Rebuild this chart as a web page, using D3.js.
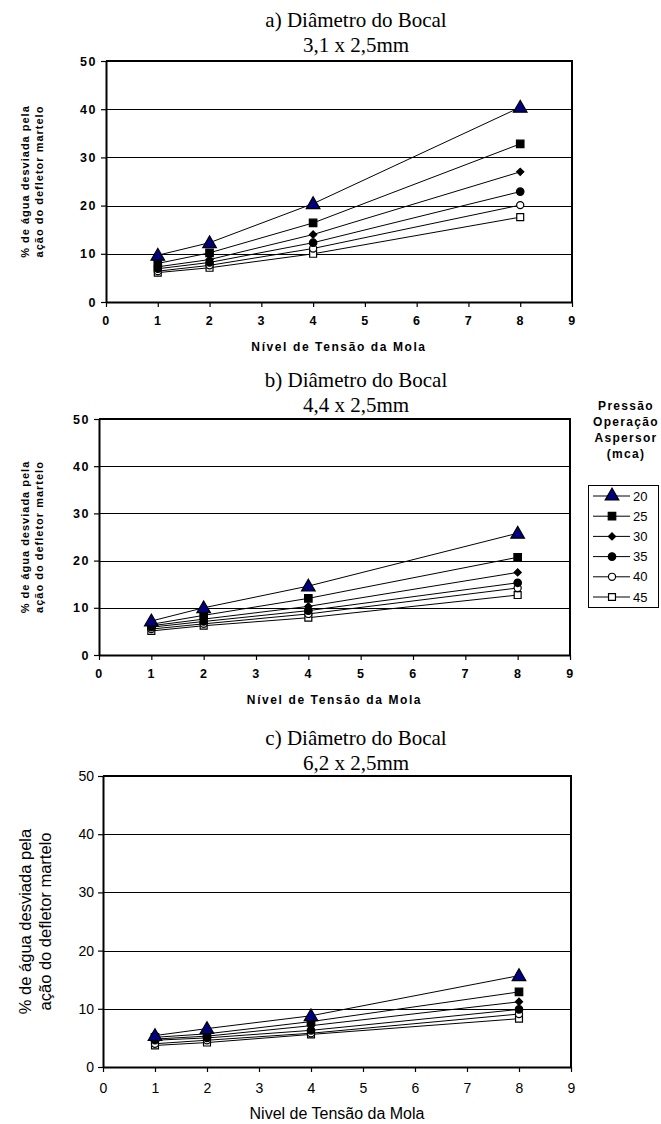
<!DOCTYPE html>
<html lang="pt">
<head>
<meta charset="UTF-8">
<title>Água desviada pelo defletor martelo</title>
<script src="https://d3js.org/d3.v7.min.js"></script>
<style>
    body { margin: 0; background: #fff; }
    svg { display: block; }
</style>
</head>
<body>
<svg id="chart"></svg>
<script>
    // niveis de tensao da mola (eixo x)
    const nivel = [1, 2, 4, 8];
    // pressao de operacao do aspersor (mca)
    const pressoes = ["20", "25", "30", "35", "40", "45"];
    const xTicks = [0, 1, 2, 3, 4, 5, 6, 7, 8, 9];
    const yTicks = [0, 10, 20, 30, 40, 50];

    // % de agua desviada, uma linha por pressao (20 ... 45)
    const bocal31 = [
        [9.7, 12.3, 20.4, 40.4],
        [8.0, 10.2, 16.4, 32.8],
        [7.3, 8.8, 14.0, 27.0],
        [6.9, 8.2, 12.3, 22.9],
        [6.4, 7.6, 11.1, 20.1],
        [6.1, 7.1, 10.0, 17.6]
    ];
    const bocal44 = [
        [7.2, 10.0, 14.6, 25.8],
        [6.5, 8.4, 12.0, 20.7],
        [6.2, 7.6, 10.3, 17.5],
        [5.9, 7.1, 9.4, 15.3],
        [5.5, 6.6, 8.7, 14.2],
        [5.1, 6.2, 7.9, 12.7]
    ];
    const bocal62 = [
        [5.4, 6.6, 8.8, 15.7],
        [5.1, 5.7, 7.8, 12.9],
        [4.8, 5.3, 7.1, 11.2],
        [4.6, 5.0, 6.3, 9.9],
        [4.0, 4.6, 5.8, 9.1],
        [3.7, 4.2, 5.6, 8.3]
    ];

    const W = 661, H = 1124;
    const svg = d3.select("#chart").attr("width", W).attr("height", H);

    // marker style per pressure (rot = rotation, square turned into a diamond)
    const markers = [
        {type: d3.symbolTriangle, size: 80, rot: 0, fill: "#000080", stroke: "#000"},
        {type: d3.symbolSquare, size: 56, rot: 0, fill: "#000", stroke: "#000"},
        {type: d3.symbolSquare, size: 26, rot: 45, fill: "#000", stroke: "#000"},
        {type: d3.symbolCircle, size: 44, rot: 0, fill: "#000", stroke: "#000"},
        {type: d3.symbolCircle, size: 40, rot: 0, fill: "#fff", stroke: "#000"},
        {type: d3.symbolSquare, size: 48, rot: 0, fill: "#fff", stroke: "#000"}
    ];

    const panels = [
        {
            data: bocal31, t1: "a) Diâmetro do Bocal", t2: "3,1 x 2,5mm",
            x0: 106, x1: 572, y0: 61, y1: 302, titleY: 27, bold: true
        },
        {
            data: bocal44, t1: "b) Diâmetro do Bocal", t2: "4,4 x 2,5mm",
            x0: 99, x1: 570, y0: 419, y1: 655, titleY: 387, bold: true
        },
        {
            data: bocal62, t1: "c) Diâmetro do Bocal", t2: "6,2 x 2,5mm",
            x0: 103, x1: 571, y0: 776, y1: 1067, titleY: 745, bold: false
        }
    ];

    panels.forEach(p => drawPanel(p));
    drawLegend();

    function drawPanel(p) {
        const x = d3.scaleLinear().domain([0, 9]).range([p.x0, p.x1]);
        const y = d3.scaleLinear().domain([0, 50]).range([p.y1, p.y0]);
        const g = svg.append("g");

        // titulo
        g.append("text")
            .attr("x", 356).attr("y", p.titleY)
            .attr("text-anchor", "middle")
            .style("font-family", "'Liberation Serif', 'Times New Roman', serif")
            .style("font-size", "21px")
            .text(p.t1);
        g.append("text")
            .attr("x", 356).attr("y", p.titleY + 25)
            .attr("text-anchor", "middle")
            .style("font-family", "'Liberation Serif', 'Times New Roman', serif")
            .style("font-size", "21px")
            .text(p.t2);

        // grade horizontal
        g.selectAll(".grid")
            .data(yTicks.filter(d => d > 0 && d < 50))
            .join("line")
            .attr("x1", p.x0).attr("x2", p.x1)
            .attr("y1", d => Math.round(y(d)) + 0.5)
            .attr("y2", d => Math.round(y(d)) + 0.5)
            .attr("stroke", "#000").attr("stroke-width", 1);

        // moldura superior e direita
        g.append("path")
            .attr("d", `M${p.x0},${p.y0}H${p.x1}V${p.y1}`)
            .attr("fill", "none").attr("stroke", "#000").attr("stroke-width", 2);

        const tickFont = p.bold ? "bold 12.5px 'Liberation Sans', Arial, sans-serif"
                                : "14px 'Liberation Sans', Arial, sans-serif";

        const yAxis = g.append("g")
            .attr("transform", `translate(${p.x0},0)`)
            .call(d3.axisLeft(y).tickValues(yTicks).tickSize(5).tickSizeOuter(0).tickPadding(4));
        const xAxis = g.append("g")
            .attr("transform", `translate(0,${p.y1})`)
            .call(d3.axisBottom(x).tickValues(xTicks).tickSize(5).tickSizeOuter(0).tickPadding(p.bold ? 9 : 11));

        [yAxis, xAxis].forEach(ax => {
            ax.select(".domain").attr("stroke", "#000").attr("stroke-width", 2);
            ax.selectAll(".tick line").attr("stroke", "#000").attr("stroke-width", 1.2);
            ax.selectAll("text")
                .style("font", tickFont)
                .style("letter-spacing", p.bold ? "1.5px" : "0px")
                .attr("fill", "#000");
        });

        // rotulos dos eixos
        const cy = (p.y0 + p.y1) / 2;
        const yl = g.append("text")
            .attr("transform", `translate(25,${cy}) rotate(-90)`)
            .attr("text-anchor", "middle")
            .style("font-family", "'Liberation Sans', Arial, sans-serif")
            .style("font-size", p.bold ? "11px" : "16.5px")
            .style("font-weight", p.bold ? "bold" : "normal")
            .style("letter-spacing", p.bold ? "1px" : "0px");
        yl.append("tspan").attr("x", 0).attr("dy", "0.35em").text("% de água desviada pela");
        yl.append("tspan").attr("x", 0).attr("dy", p.bold ? 14 : 20).text("ação do defletor martelo");

        g.append("text")
            .attr("x", (p.x0 + p.x1) / 2)
            .attr("y", p.bold ? p.y1 + 49 : H - 5)
            .attr("text-anchor", "middle")
            .style("font-family", "'Liberation Sans', Arial, sans-serif")
            .style("font-size", p.bold ? "12px" : "16px")
            .style("font-weight", p.bold ? "bold" : "normal")
            .style("letter-spacing", p.bold ? "1.6px" : "0px")
            .text(p.bold ? "Nível de Tensão da Mola" : "Nivel de Tensão da Mola");

        // linhas
        const line = d3.line().x((d, i) => x(nivel[i])).y(d => y(d));
        g.selectAll(".serie")
            .data(p.data)
            .join("path")
            .attr("d", line)
            .attr("fill", "none").attr("stroke", "#000").attr("stroke-width", 1);

        // marcadores (desenha primeiro as pressoes maiores)
        p.data.map((s, k) => ({s, k})).reverse().forEach(({s, k}) => {
            const m = markers[k];
            g.selectAll(null)
                .data(s)
                .join("path")
                .attr("transform", (d, i) =>
                    `translate(${x(nivel[i])},${y(d) + (k === 0 ? 1 : 0)}) rotate(${m.rot})`)
                .attr("d", d3.symbol().type(m.type).size(m.size))
                .attr("fill", m.fill).attr("stroke", m.stroke).attr("stroke-width", 1.2);
        });
    }

    function drawLegend() {
        const lg = svg.append("g");
        const head = ["Pressão", "Operação", "Aspersor", "(mca)"];
        lg.selectAll(".head")
            .data(head)
            .join("text")
            .attr("x", 626)
            .attr("y", (d, i) => 410 + i * 16)
            .attr("text-anchor", "middle")
            .style("font", "bold 12px 'Liberation Sans', Arial, sans-serif")
            .style("letter-spacing", "1.3px")
            .text(d => d);

        lg.append("rect")
            .attr("x", 588.5).attr("y", 485.5).attr("width", 70).attr("height", 122)
            .attr("fill", "#fff").attr("stroke", "#000").attr("stroke-width", 1);

        const ly = d3.scalePoint().domain(pressoes).range([496, 597]);
        pressoes.forEach((pr, k) => {
            const m = markers[k];
            lg.append("line")
                .attr("x1", 593).attr("x2", 630)
                .attr("y1", ly(pr)).attr("y2", ly(pr))
                .attr("stroke", "#000").attr("stroke-width", 1);
            lg.append("path")
                .attr("transform", `translate(612,${ly(pr)}) rotate(${m.rot})`)
                .attr("d", d3.symbol().type(m.type).size(m.size))
                .attr("fill", m.fill).attr("stroke", m.stroke).attr("stroke-width", 1.2);
            lg.append("text")
                .attr("x", 633).attr("y", ly(pr))
                .attr("dy", "0.36em")
                .style("font", "13px 'Liberation Sans', Arial, sans-serif")
                .text(pr);
        });
    }
</script>
</body>
</html>
